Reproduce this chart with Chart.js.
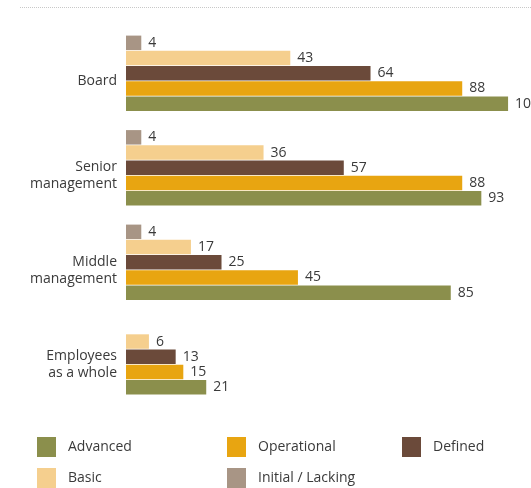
<!DOCTYPE html>
<html lang="en">
<head>
    <meta charset="UTF-8">
    <meta name="viewport" content="width=device-width, initial-scale=1.0">
    <script src="https://cdn.jsdelivr.net/npm/chart.js@4.4.0/dist/chart.umd.min.js"></script>
    <title>Maturity by level</title>
    <style>
        body { margin: 0; background: #fff; }
        #wrap { position: relative; width: 531px; height: 488px; }
    </style>
</head>
<body>
    <div id="wrap"><canvas id="myChart" width="531" height="488"></canvas></div>
    <script>

        var categories = [['Board'], ['Senior', 'management'], ['Middle', 'management'], ['Employees', 'as a whole']];

        var initialLacking = [4, 4, 4, null];
        var basic = [43, 36, 17, 6];
        var defined = [64, 57, 25, 13];
        var operational = [88, 88, 45, 15];
        var advanced = [100, 93, 85, 21];

        var fontFamily = '"Open Sans", "Noto Sans", sans-serif';
        var textColor = '#3a3a3a';

        // value next to the end of each bar
        var valueLabels = {
            id: 'valueLabels',
            afterDatasetsDraw: function(chart) {
                var ctx = chart.ctx;
                ctx.save();
                ctx.font = '14px ' + fontFamily;
                ctx.fillStyle = textColor;
                ctx.textAlign = 'left';
                ctx.textBaseline = 'middle';
                chart.data.datasets.forEach(function(ds, i) {
                    var meta = chart.getDatasetMeta(i);
                    meta.data.forEach(function(bar, j) {
                        var v = ds.data[j];
                        if (v === null) return;
                        ctx.fillText(String(v), bar.x + 7, bar.y);
                    });
                });
                ctx.restore();
            }
        };

        // dotted rule at the top and the legend underneath
        var decorations = {
            id: 'decorations',
            afterDraw: function(chart) {
                var ctx = chart.ctx;
                ctx.save();
                ctx.strokeStyle = '#c8c8c8';
                ctx.lineWidth = 1;
                ctx.setLineDash([1, 1]);
                ctx.beginPath();
                ctx.moveTo(20, 7.5);
                ctx.lineTo(531, 7.5);
                ctx.stroke();
                ctx.setLineDash([]);

                var byLabel = {};
                chart.data.datasets.forEach(function(ds) { byLabel[ds.label] = ds.backgroundColor; });
                var items = [
                    ['Advanced', 37, 437], ['Operational', 227, 437], ['Defined', 402, 437],
                    ['Basic', 37, 468], ['Initial / Lacking', 227, 468]
                ];
                ctx.font = '14px ' + fontFamily;
                ctx.textBaseline = 'middle';
                items.forEach(function(it) {
                    ctx.fillStyle = byLabel[it[0]];
                    ctx.fillRect(it[1], it[2], 19, 20);
                    ctx.fillStyle = textColor;
                    ctx.fillText(it[0], it[1] + 31, it[2] + 10);
                });
                ctx.restore();
            }
        };

        function chartIt()
        {
            var ctx = document.getElementById('myChart').getContext('2d');
            var myChart = new Chart(ctx, {
                type: 'bar',
                data: {
                    labels: categories,
                    datasets: [
                        { label: 'Initial / Lacking', data: initialLacking, backgroundColor: '#a89585' },
                        { label: 'Basic', data: basic, backgroundColor: '#f5cf8e' },
                        { label: 'Defined', data: defined, backgroundColor: '#6b4a3a' },
                        { label: 'Operational', data: operational, backgroundColor: '#e8a511' },
                        { label: 'Advanced', data: advanced, backgroundColor: '#8b8f4c' }
                    ]
                },
                options: {
                    indexAxis: 'y',
                    responsive: false,
                    animation: { duration: 0 },
                    categoryPercentage: 0.805,
                    barPercentage: 0.95,
                    layout: {
                        padding: { top: 26, bottom: 84, left: 0, right: 0 }
                    },
                    plugins: {
                        legend: { display: false },
                        tooltip: { enabled: false }
                    },
                    scales: {
                        x: {
                            display: false,
                            min: 0,
                            max: 106
                        },
                        y: {
                            grid: { display: false, drawTicks: false },
                            border: { display: false },
                            afterFit: function(scale) { scale.width = 126; },
                            ticks: {
                                padding: 9,
                                labelOffset: 8,
                                color: textColor,
                                font: { family: fontFamily, size: 14, lineHeight: 1.2 }
                            }
                        }
                    }
                },
                plugins: [valueLabels, decorations]
            });
        }

        chartIt();
    </script>

</body>
</html>
